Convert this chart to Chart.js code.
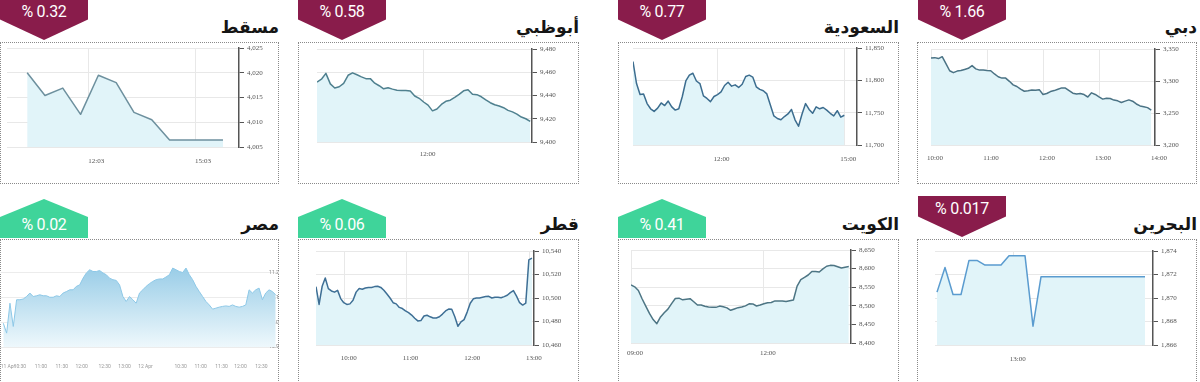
<!DOCTYPE html>
<html>
<head>
<meta charset="utf-8">
<script src="https://cdn.jsdelivr.net/npm/chart.js@4.4.0/dist/chart.umd.min.js"></script>
<style>
  body { margin: 0; width: 1200px; height: 382px; position: relative; overflow: hidden; background: #fff; }
  .box { position: absolute; border: 1px dotted #8a8a8a; box-sizing: border-box; }
  .title { position: absolute; font: bold 17px "DejaVu Sans"; direction: rtl; color: #151515; white-space: nowrap; line-height: 24px; }
  .badge { position: absolute; width: 88px; color: #fff; font: 16px Roboto; text-align: center; letter-spacing: -0.3px; }
  .down { background: #891c4b; clip-path: polygon(0 0, 100% 0, 100% 50%, 50% 100%, 0 50%); }
  .up { background: #3fd49a; clip-path: polygon(50% 0, 100% 46%, 100% 100%, 0 100%, 0 46%); }
  canvas { position: absolute; }
</style>
</head>
<body>
<script>
// ---- data ----
const titles = ["مسقط", "أبوظبي", "السعودية", "دبي", "مصر", "قطر", "الكويت", "البحرين"];
const changes = ["% 0.32", "% 0.58", "% 0.77", "% 1.66", "% 0.02", "% 0.06", "% 0.41", "% 0.017"];
const directions = ["down", "down", "down", "down", "up", "up", "up", "down"];

// مسقط
const muscatValues = [4020, 4015.4, 4016.9, 4011.6, 4019.5, 4018, 4012, 4010.5, 4006.4, 4006.4, 4006.4, 4006.4];
const muscatTimeTicks = ["12:03", "15:03"];
const muscatLevels = [4005, 4010, 4015, 4020, 4025];

// أبوظبي
const abuDhabiValues = [9451.6, 9454, 9459, 9450, 9446.5, 9447.5, 9450.5, 9457.4, 9459.5, 9457.8,
  9456, 9454.5, 9454.5, 9450.6, 9448.4, 9445.8, 9446.6, 9445.5, 9444.6, 9444.3,
  9444.3, 9443.8, 9439.6, 9437.6, 9434.4, 9431.7, 9426.8, 9428.4, 9432.3, 9435,
  9436, 9438.3, 9440.9, 9444, 9444.9, 9441, 9440.7, 9438.9, 9436.2, 9433.8,
  9432, 9431, 9429.5, 9427.2, 9425.9, 9424, 9421.5, 9420, 9417.7];
const abuDhabiTimeTicks = ["12:00"];
const abuDhabiLevels = [9400, 9420, 9440, 9460, 9480];

// السعودية
const saudiValues = [11829, 11795, 11778, 11779, 11764, 11756, 11752, 11757, 11765, 11761,
  11768, 11759, 11754, 11756, 11775, 11799, 11808, 11811, 11799, 11795,
  11776, 11772, 11767, 11775, 11778, 11782, 11792, 11797, 11791, 11793,
  11789, 11794, 11806, 11808, 11805, 11790, 11786, 11784, 11779, 11762,
  11745, 11741, 11739, 11744, 11748, 11755, 11739, 11729, 11748, 11764,
  11755, 11749, 11759, 11756, 11758, 11754, 11749, 11745, 11753, 11743, 11746];
const saudiTimeTicks = ["12:00", "15:00"];
const saudiLevels = [11700, 11750, 11800, 11850];

// دبي
const dubaiValues = [3336, 3336.5, 3335, 3338, 3327, 3316, 3313, 3315.5, 3316.3, 3318,
  3319.8, 3324, 3319, 3317, 3317, 3316.4, 3316, 3311, 3306.6, 3304.5,
  3304.5, 3299.5, 3294, 3291.4, 3287.2, 3284, 3284.8, 3286, 3285.5, 3286.5,
  3279, 3280.5, 3283.5, 3285, 3287.2, 3289.2, 3289, 3285, 3281, 3279.7,
  3280.5, 3278.8, 3275, 3281.5, 3279, 3275.2, 3271.7, 3273, 3272.6, 3270.2,
  3269, 3266.5, 3268.5, 3270.5, 3268.4, 3264.1, 3261, 3259.8, 3258.4, 3254.5];
const dubaiTimeTicks = ["10:00", "11:00", "12:00", "13:00", "14:00"];
const dubaiLevels = [3200, 3250, 3300, 3350];

// مصر
const egyptValues = [10996, 10956, 11077, 10983, 11091, 11091, 11094, 11104, 11118, 11104,
  11107, 11111, 11107, 11107, 11101, 11101, 11107, 11104, 11118, 11124,
  11131, 11131, 11145, 11151, 11178, 11199, 11212, 11205, 11205, 11209,
  11199, 11192, 11178, 11172, 11169, 11151, 11104, 11084, 11104, 11091,
  11077, 11118, 11131, 11145, 11156, 11165, 11172, 11175, 11175, 11183,
  11192, 11219, 11212, 11205, 11201, 11219, 11192, 11172, 11145, 11124,
  11104, 11084, 11070, 11053, 11057, 11061, 11064, 11066, 11064, 11070,
  11064, 11061, 11064, 11070, 11131, 11118, 11131, 11138, 11091, 11118,
  11131, 11124, 11111];
const egyptTickLabels = ["11 Apr", "10:30", "11:00", "11:30", "12:00", "12:30", "13:00", "12 Apr", "10:30", "11:00", "11:30", "12:00", "12:30"];
const egyptTickIndex = [1.4, 5, 11.3, 17.6, 23.6, 30.5, 36.5, 42.8, 53.4, 59.4, 65.7, 71.4, 77.7];
const egyptLevels = [10900, 11000, 11100, 11200];

// قطر
const qatarValues = [10509.6, 10494.5, 10510, 10517, 10508, 10506, 10505, 10506.5, 10499.5, 10496,
  10494.5, 10495, 10498, 10505, 10508, 10507.5, 10508.5, 10509, 10509, 10509.7,
  10510, 10509, 10506.6, 10503.4, 10500, 10496, 10495, 10492, 10491, 10489,
  10487.5, 10485.5, 10482.8, 10480.5, 10480.8, 10484.7, 10485.3, 10484, 10483, 10483,
  10484, 10486.3, 10489, 10490.6, 10490.4, 10484, 10476, 10479.7, 10481.6, 10488,
  10495.5, 10499.3, 10500, 10500, 10500.6, 10501.2, 10501.4, 10500, 10500.6, 10500.6,
  10500.2, 10501.2, 10502.3, 10504.6, 10506.3, 10501.6, 10496, 10494, 10495.6, 10532.5, 10534];
const qatarTimeTicks = ["10:00", "11:00", "12:00", "13:00"];
const qatarLevels = [10460, 10480, 10500, 10520, 10540];

// الكويت
const kuwaitValues = [8556, 8551, 8541, 8519, 8499, 8479.5, 8463, 8452, 8470, 8481.5,
  8491, 8506, 8519.7, 8520.5, 8516, 8517.5, 8519.2, 8511, 8502, 8502,
  8499, 8496.8, 8495.8, 8495.8, 8499.2, 8497.5, 8494.5, 8487.9, 8491.5, 8495,
  8496.6, 8499.9, 8505.4, 8505, 8499.5, 8502.2, 8505.3, 8508, 8509, 8513.2,
  8513, 8513, 8511.7, 8513.7, 8515.6, 8553, 8570.5, 8576.4, 8582.8, 8592.4,
  8592, 8591, 8599.4, 8606.3, 8608.7, 8608.4, 8605, 8601.5, 8603.8, 8605.6];
const kuwaitTimeTicks = ["09:00", "12:00"];
const kuwaitLevels = [8400, 8450, 8500, 8550, 8600, 8650];

// البحرين
const bahrainValues = [1870.5, 1872.6, 1870.3, 1870.3, 1873.2, 1873.2, 1872.8, 1872.8, 1872.8, 1873.6,
  1873.6, 1873.6, 1867.6, 1871.8, 1871.8, 1871.8, 1871.8, 1871.8, 1871.8, 1871.8,
  1871.8, 1871.8, 1871.8, 1871.8, 1871.8, 1871.8, 1871.8];
const bahrainTimeTicks = ["13:00"];
const bahrainLevels = [1866, 1868, 1870, 1872, 1874];

// ---- layout ----
const boxCols = [[0, 278], [298, 578], [618, 898], [917, 1196]];
const rowTop = [0, 197];

function toMin(s) { const [h, m] = s.split(":"); return +h * 60 + +m; }

// إطارات وعناوين
titles.forEach((t, i) => {
  const col = boxCols[i % 4], dy = rowTop[Math.floor(i / 4)];
  const box = document.createElement("div");
  box.className = "box";
  box.style.cssText = `left:${col[0]}px;top:${42 + dy}px;width:${col[1] - col[0] + 1}px;height:${i < 4 ? 142 : 144}px`;
  document.body.appendChild(box);

  const ti = document.createElement("div");
  ti.className = "title";
  ti.textContent = t;
  ti.style.cssText = `right:${1200 - col[1] - 1}px;top:${15 + dy}px`;
  document.body.appendChild(ti);

  const b = document.createElement("div");
  b.className = "badge " + directions[i];
  const up = directions[i] === "up";
  b.style.cssText = `left:${col[0] + (i % 4 === 3 ? 1 : 0)}px;top:${(up ? 2 : -1) + dy}px;height:${up ? 39 : 41}px;line-height:${up ? 52 : 26}px`;
  b.textContent = changes[i];
  document.body.appendChild(b);
});

const tickFont = { family: "Liberation Serif", size: 7 };

const panels = [
  { values: muscatValues, start: "10:20", step: 30, times: muscatTimeTicks, levels: muscatLevels,
    L: 7, R: 239, T: 48, B: 147, xMin: 586, xMax: 977, xPad: 10, align: "start", line: "#6d909e" },
  { values: abuDhabiValues, start: "10:00", step: 5, times: abuDhabiTimeTicks, levels: abuDhabiLevels,
    L: 317, R: 532, T: 49, B: 142, xMin: 600, xMax: 842, xPad: 8, line: "#4f808f" },
  { values: saudiValues, start: "10:00", step: 5, times: saudiTimeTicks, levels: saudiLevels,
    L: 633, R: 857, T: 48, B: 145, xMin: 600, xMax: 918, xPad: 10, line: "#3c6d8f" },
  { values: dubaiValues, start: "10:00", step: 4, times: dubaiTimeTicks, levels: dubaiLevels,
    L: 931, R: 1155, T: 49, B: 145, xMin: 600, xMax: 840, xPad: 9, line: "#4b7385" },
  { values: qatarValues, start: "09:32", step: 3, times: qatarTimeTicks, levels: qatarLevels,
    L: 316, R: 534, T: 251, B: 345, xMin: 572, xMax: 784, xPad: 9, line: "#3e6f95" },
  { values: kuwaitValues, start: "09:00", step: 5, times: kuwaitTimeTicks, levels: kuwaitLevels,
    L: 631, R: 851, T: 250, B: 343, xMin: 540, xMax: 838, xPad: 6, line: "#4d7584" },
  { values: bahrainValues, start: "12:12", step: 5, times: bahrainTimeTicks, levels: bahrainLevels,
    L: 935, R: 1153, T: 251, B: 345, xMin: 730.75, xMax: 867, xPad: 10, line: "#5a9bcf" },
];

function makeCanvas(L, R, T, B, padL, padT, yW, xH) {
  const c = document.createElement("canvas");
  c.width = R - L + padL + yW;
  c.height = B - T + padT + xH;
  c.style.left = (L - padL) + "px";
  c.style.top = (T - padT) + "px";
  document.body.appendChild(c);
  return c;
}

// الرسوم الخطية
panels.forEach(p => {
  const padL = 12, padT = 8, yW = 40, xH = 24;
  const c = makeCanvas(p.L, p.R, p.T, p.B, padL, padT, yW, xH);
  const t0 = toMin(p.start);
  const pts = p.values.map((v, i) => ({ x: t0 + i * p.step, y: v }));
  const xTicks = p.times.map(toMin);
  new Chart(c, {
    type: "line",
    data: { datasets: [{ data: pts, borderColor: p.line, borderWidth: 1.5, backgroundColor: "#e1f4f9",
      fill: "start", pointRadius: 0, tension: 0, borderJoinStyle: "round" }] },
    options: {
      responsive: false, animation: false,
      layout: { padding: { left: padL, top: padT, right: 0, bottom: 0 } },
      plugins: { legend: { display: false }, tooltip: { enabled: false } },
      scales: {
        x: {
          type: "linear", min: p.xMin, max: p.xMax,
          afterBuildTicks: s => { s.ticks = xTicks.map(v => ({ value: v })); },
          afterFit: s => { s.height = xH; s.paddingLeft = 0; s.paddingRight = 0; },
          grid: { color: "#e8e8e8", drawTicks: false },
          border: { display: false },
          ticks: { padding: p.xPad, font: tickFont, color: "#555", maxRotation: 0, autoSkip: false,
            align: p.align || "center", labelOffset: p.align ? 0 : 4,
            callback: (v, i) => p.times[i] }
        },
        y: {
          position: "right", min: p.levels[0], max: p.levels[p.levels.length - 1],
          afterBuildTicks: s => { s.ticks = p.levels.map(v => ({ value: v })); },
          afterFit: s => { s.width = yW; s.paddingTop = 0; s.paddingBottom = 0; },
          grid: { color: "#e8e8e8", tickColor: "#555", tickLength: 5 },
          border: { color: "#555", width: 1.5 },
          ticks: { padding: 3, font: tickFont, color: "#555", callback: v => v.toLocaleString("en-US") }
        }
      }
    }
  });
});

// مصر
(() => {
  const L = 0, R = 279, T = 248, B = 347, padL = 12, padT = 8, xH = 24;
  const c = makeCanvas(L, R, T, B, padL, padT, 0, xH);
  new Chart(c, {
    type: "line",
    data: { datasets: [{
      data: egyptValues.map((v, i) => ({ x: i, y: v })),
      borderColor: "#8dc8e7", borderWidth: 1, pointRadius: 0, tension: 0, fill: "start",
      backgroundColor: ctx => {
        const a = ctx.chart.chartArea;
        if (!a) return "#cde9f5";
        const g = ctx.chart.ctx.createLinearGradient(0, a.top, 0, a.bottom);
        g.addColorStop(0, "#84c2e2");
        g.addColorStop(1, "#eef8fc");
        return g;
      }
    }] },
    options: {
      responsive: false, animation: false,
      layout: { padding: { left: padL, top: padT, right: 0, bottom: 0 } },
      plugins: { legend: { display: false }, tooltip: { enabled: false } },
      scales: {
        x: {
          type: "linear", min: -1, max: 83,
          afterBuildTicks: s => { s.ticks = egyptTickIndex.map(v => ({ value: v })); },
          afterFit: s => { s.height = xH; s.paddingLeft = 0; s.paddingRight = 0; },
          grid: { display: false }, border: { display: false },
          ticks: { padding: 9, font: { family: "Roboto", size: 5 }, color: "#999", maxRotation: 0, autoSkip: false,
            callback: (v, i) => egyptTickLabels[i] }
        },
        y: {
          position: "right", min: 10900, max: 11300, z: 1,
          afterBuildTicks: s => { s.ticks = egyptLevels.map(v => ({ value: v })); },
          afterFit: s => { s.width = 0; s.paddingTop = 0; s.paddingBottom = 0; },
          grid: { color: "#ececec", drawTicks: false, drawOnChartArea: true }, border: { display: false },
          ticks: { mirror: true, padding: 3, font: { family: "Roboto", size: 5 }, color: "#888",
            callback: v => (v / 1000).toFixed(1) + "K" }
        }
      }
    }
  });
})();
</script>
</body>
</html>
